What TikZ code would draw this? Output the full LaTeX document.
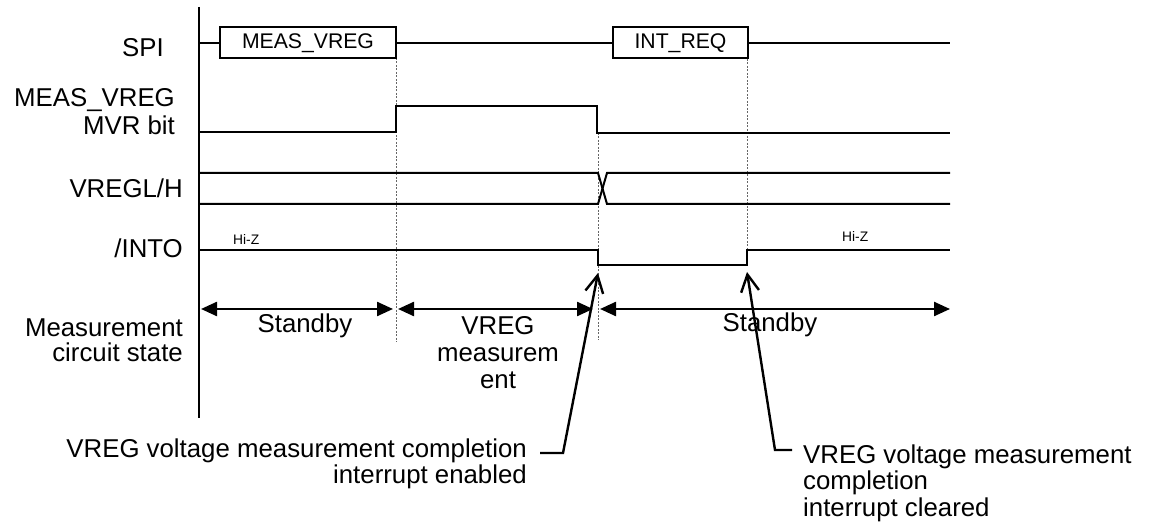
\documentclass[tikz,border=0pt]{standalone}
\usepackage{fontspec}
\setmainfont{Liberation Sans}
\usetikzlibrary{arrows.meta}
\begin{document}
\begin{tikzpicture}[x=1pt,y=-1pt,
  font=\fontsize{25.8}{26.5}\selectfont,
  sig/.style={line width=2pt},
  boxtext/.style={draw,line width=2pt,inner sep=0pt,font=\fontsize{21.2}{24}\selectfont},
  lbl/.style={inner sep=0pt,align=right},
  small/.style={inner sep=0pt,font=\fontsize{13.8}{15}\selectfont},
  guide/.style={line width=0.9pt,gray!80!black,dash pattern=on 2pt off 1.5pt},
  span/.style={line width=2.4pt,{Triangle[length=16pt,width=14pt]}-{Triangle[length=16pt,width=14pt]}},
  callout/.style={line width=2.4pt,-{Straight Barb[length=17pt,width=18pt,line width=2.4pt]}},
  note/.style={inner sep=0pt}]
\useasboundingbox (0,0) rectangle (1154,526);

% axis
\coordinate (axT) at (199,7);
\coordinate (axB) at (199,418);
\draw[line width=2pt] (axT) -- (axB);

% labels
\node[lbl,anchor=base] (lspi) at (143,57) {SPI};
\node[lbl,anchor=base east] (lmeas) at (175,107) {MEAS\_VREG};
\node[lbl,anchor=base east] (lmvr) at (175,135) {MVR bit};
\node[lbl,anchor=base east] (lvreg) at (183,198) {VREGL/H};
\node[lbl,anchor=base east] (lint) at (183,258) {/INTO};
\node[lbl,anchor=base east] (lmc1) at (183,337) {Measurement};
\node[lbl,anchor=base east] (lmc2) at (183,362) {circuit state};

% guides
\draw[guide] (396,58) -- (396,342);
\draw[guide] (598,133) -- (598,340);
\draw[guide] (747,59) -- (747,250);

% SPI
\node[boxtext,minimum width=176pt,minimum height=31pt] (bmeas) at (308,43) {MEAS\_VREG};
\node[boxtext,minimum width=135pt,minimum height=31pt] (bint) at (680.5,43) {INT\_REQ};
\coordinate (spiS) at (199,43);
\coordinate (spiE) at (950,43);
\draw[sig] (spiS) -- (bmeas.west);
\draw[sig] (bmeas.east) -- (bint.west);
\draw[sig] (bint.east) -- (spiE);

% MVR bit
\draw[sig] (199,132) -- (396,132) -- (396,106) -- (597,106) -- (597,133) -- (950,133);

% VREGL/H
\draw[sig] (199,173) -- (598,173) -- (607,204) -- (950,204);
\draw[sig] (199,204) -- (598,204) -- (607,173) -- (950,173);

% /INTO
\draw[sig] (199,250) -- (598,250) -- (598,265) -- (747,265) -- (747,250) -- (950,250);
\node[small,anchor=base west] (hz1) at (233,245) {Hi-Z};
\node[small,anchor=base west] (hz2) at (842,242) {Hi-Z};

% state spans
\coordinate (s0) at (201,309);
\coordinate (s1) at (393,309);
\coordinate (s2) at (398,309);
\coordinate (s3) at (593,309);
\coordinate (s4) at (600,309);
\coordinate (s5) at (950,309);
\draw[span] (s0) -- (s1);
\draw[span] (s2) -- (s3);
\draw[span] (s4) -- (s5);
\node[note,anchor=base] (st1) at (305,333) {Standby};
\node[note,anchor=north,align=center,font=\fontsize{25.8}{27}\selectfont] (st2) at (498,316.5) {VREG\\measurem\\ent};
\node[note,anchor=base] (st3) at (770,332) {Standby};

% callouts
\coordinate (tip1) at (598,273);
\coordinate (c1) at (563,453);
\coordinate (e1) at (540,453);
\draw[callout] (e1) -- (c1) -- (tip1);
\node[note,anchor=north east,align=right] (n1) at (527,438.5) {VREG voltage measurement completion\\interrupt enabled};

\coordinate (tip2) at (747,272);
\coordinate (c2) at (775,450);
\coordinate (e2) at (792,450);
\draw[callout] (e2) -- (c2) -- (tip2);
\node[note,anchor=north west,align=left] (n2) at (803,444.5) {VREG voltage measurement\\completion\\interrupt cleared};
\end{tikzpicture}
\end{document}
